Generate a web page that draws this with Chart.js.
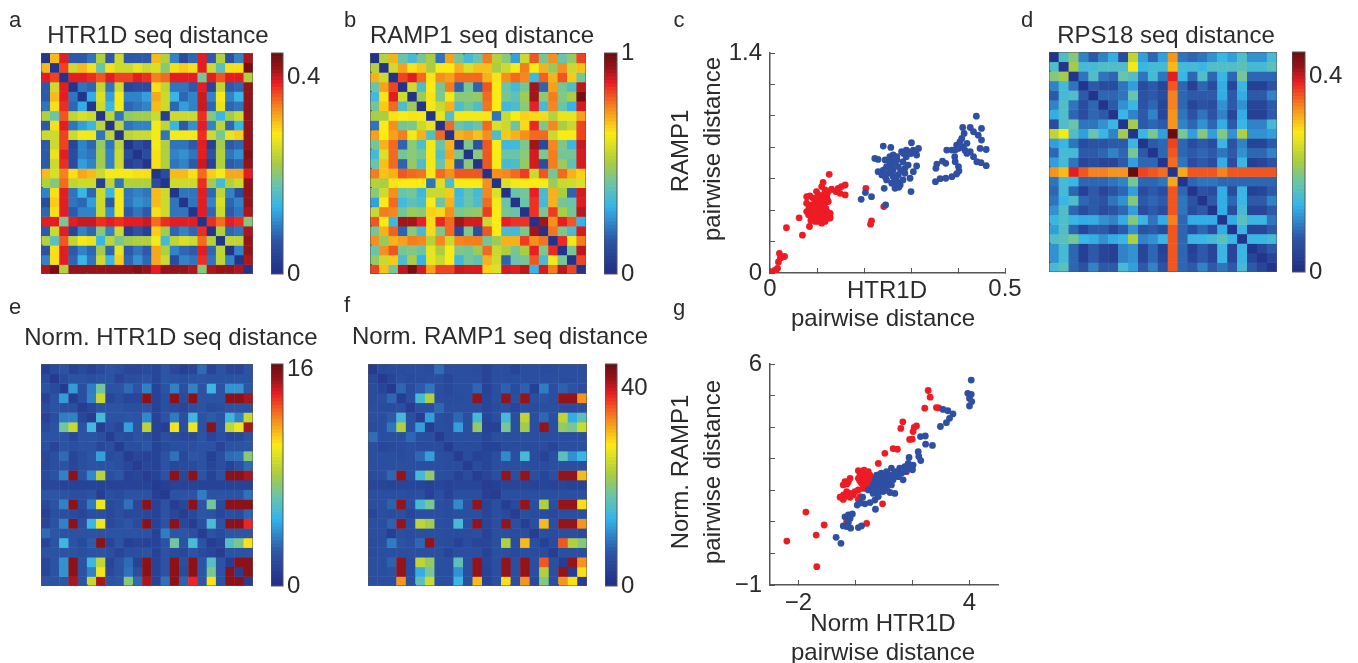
<!DOCTYPE html>
<html>
<head>
<meta charset="utf-8">
<script src="https://cdn.jsdelivr.net/npm/chart.js@4/dist/chart.umd.min.js"></script>
<style>
html, body { margin: 0; padding: 0; background: #fff; overflow: hidden; }
#page { position: relative; width: 1358px; height: 663px; font-family: "Liberation Sans", Arial, sans-serif; filter: blur(0.45px); }
canvas { position: absolute; }
.lbl { position: absolute; white-space: nowrap; color: #2b2b2b; }
</style>
</head>
<body>
<div id="page"></div>
<script>
// distance matrices are symmetric, so only the upper triangle is kept (row i starts at column i)
const htr1dDist = [
  [.01,.31,.39,.07,.07,.09,.23,.07,.25,.07,.07,.07,.31,.23,.1,.05,.08,.39,.07,.23,.06,.1,.41],
  [.01,.37,.25,.31,.29,.18,.29,.25,.25,.27,.25,.26,.2,.29,.3,.29,.39,.25,.17,.29,.29,.44],
  [.01,.39,.39,.38,.36,.39,.37,.37,.39,.38,.34,.35,.39,.39,.39,.19,.39,.36,.39,.39,.23],
  [.01,.09,.08,.24,.09,.25,.04,.05,.05,.29,.24,.09,.09,.07,.39,.04,.24,.07,.08,.42],
  [.01,.13,.26,.12,.28,.1,.1,.12,.32,.25,.14,.08,.1,.4,.1,.28,.1,.14,.42],
  [.01,.25,.14,.28,.08,.09,.1,.31,.25,.08,.12,.1,.4,.08,.27,.08,.09,.42],
  [.01,.24,.09,.21,.22,.22,.25,.03,.25,.25,.25,.38,.2,.14,.22,.25,.42],
  [.01,.24,.09,.1,.1,.28,.24,.14,.07,.11,.39,.1,.24,.08,.14,.42],
  [.01,.24,.25,.25,.28,.09,.28,.28,.28,.38,.25,.19,.27,.3,.42],
  [.01,.05,.03,.28,.23,.09,.09,.07,.39,.03,.22,.07,.08,.42],
  [.01,.05,.29,.23,.1,.11,.09,.39,.06,.23,.09,.11,.43],
  [.01,.29,.23,.09,.1,.07,.4,.03,.23,.07,.08,.42],
  [.01,.05,.31,.31,.29,.35,.3,.28,.32,.32,.39],
  [.01,.25,.25,.25,.38,.22,.15,.23,.25,.42],
  [.01,.09,.09,.39,.08,.24,.1,.05,.42],
  [.01,.09,.39,.1,.26,.08,.1,.42],
  [.01,.39,.08,.25,.07,.09,.41],
  [.01,.38,.35,.39,.38,.2],
  [.01,.23,.08,.09,.41],
  [.01,.24,.24,.42],
  [.01,.1,.42],
  [.01,.41],
  [.01]
];
const ramp1Dist = [
  [.02,.52,.7,.4,.33,.42,.5,.2,.72,.42,.33,.4,.76,.52,.45,.27,.55,.8,.42,.74,.4,.47,.82],
  [.02,.56,.72,.64,.67,.5,.63,.63,.7,.58,.68,.68,.5,.56,.63,.76,.63,.7,.47,.74,.55,.68],
  [.02,.82,.87,.78,.64,.74,.72,.78,.78,.78,.7,.64,.74,.78,.75,.32,.79,.7,.8,.67,.42],
  [.02,.56,.35,.63,.42,.76,.17,.42,.17,.8,.63,.4,.33,.42,.92,.17,.72,.42,.35,.9],
  [.02,.48,.64,.43,.62,.45,.45,.47,.78,.63,.42,.38,.48,.92,.45,.76,.44,.5,.98],
  [.02,.62,.55,.7,.35,.42,.35,.77,.63,.32,.35,.45,.86,.33,.75,.4,.3,.88],
  [.02,.6,.36,.62,.62,.62,.62,.2,.55,.63,.66,.65,.65,.52,.6,.6,.72],
  [.02,.78,.4,.36,.4,.78,.58,.55,.4,.65,.85,.43,.75,.5,.55,.82],
  [.02,.7,.72,.68,.74,.35,.67,.7,.74,.78,.78,.55,.63,.63,.82],
  [.02,.43,.13,.8,.63,.32,.33,.43,.92,.1,.75,.43,.32,.89],
  [.02,.45,.8,.63,.4,.4,.45,.88,.43,.76,.42,.42,.88],
  [.02,.8,.63,.33,.35,.47,.88,.12,.76,.48,.38,.88],
  [.02,.74,.75,.78,.83,.55,.8,.42,.78,.7,.66],
  [.02,.58,.62,.63,.63,.63,.48,.55,.56,.58],
  [.02,.4,.42,.86,.34,.7,.5,.17,.88],
  [.02,.4,.84,.33,.7,.42,.4,.87],
  [.02,.84,.43,.83,.5,.42,.9],
  [.02,.92,.74,.86,.8,.3],
  [.02,.77,.43,.34,.88],
  [.02,.85,.62,.76],
  [.02,.42,.9],
  [.02,.82],
  [.02]
];
const rps18Dist = [
  [.01,.16,.2,.1,.07,.1,.13,.05,.24,.12,.08,.12,.33,.09,.08,.09,.11,.14,.12,.16,.11,.11,.15],
  [.01,.22,.15,.15,.16,.16,.16,.28,.14,.15,.15,.31,.15,.15,.14,.16,.16,.16,.17,.15,.15,.17],
  [.01,.09,.16,.09,.08,.18,.16,.09,.15,.09,.39,.14,.08,.16,.08,.14,.08,.19,.08,.08,.08],
  [.01,.07,.05,.05,.09,.12,.05,.07,.04,.36,.08,.03,.08,.05,.13,.04,.14,.03,.03,.06],
  [.01,.08,.08,.09,.18,.06,.07,.05,.34,.08,.07,.07,.07,.13,.07,.13,.07,.07,.1],
  [.01,.07,.11,.14,.06,.08,.04,.34,.08,.04,.06,.05,.11,.07,.11,.04,.04,.07],
  [.01,.14,.1,.07,.1,.04,.33,.09,.06,.09,.06,.1,.04,.13,.03,.03,.07],
  [.01,.22,.07,.08,.07,.33,.1,.08,.11,.08,.13,.07,.14,.1,.1,.15],
  [.01,.14,.19,.12,.45,.19,.12,.2,.12,.2,.11,.23,.11,.11,.12],
  [.01,.07,.08,.37,.08,.05,.07,.05,.14,.06,.1,.04,.04,.07],
  [.01,.08,.36,.08,.07,.08,.07,.09,.07,.11,.08,.08,.1],
  [.01,.35,.09,.05,.07,.05,.13,.05,.14,.03,.04,.06],
  [.01,.32,.36,.36,.36,.34,.36,.36,.36,.36,.36],
  [.01,.08,.09,.09,.08,.08,.08,.08,.08,.08],
  [.01,.06,.05,.13,.05,.14,.03,.04,.07],
  [.01,.07,.13,.08,.14,.07,.07,.1],
  [.01,.13,.05,.15,.04,.04,.07],
  [.01,.13,.17,.14,.14,.09],
  [.01,.14,.04,.04,.07],
  [.01,.14,.14,.15],
  [.01,.04,.07],
  [.01,.04],
  [.01]
];
const normHtr1dDist = [
  [1,1.8,2.2,1.2,1.8,1.2,1.8,2.2,2,1.6,1.6,1.8,1.5,2.4,1.6,1.1,1.4,3,1.4,2.2,1.5,1.4,2.2],
  [.8,1.8,2.2,2.2,2,2.2,2.2,1.4,2,2,2.2,1.5,2.4,2.2,2,2.2,2.4,2.2,2.2,2.2,2.2,2.2],
  [.8,4.3,2,3.5,6.8,2.2,2.2,3,2.2,3.6,1.3,2.2,3.6,2,3.6,2.2,5.2,2.2,4,4,2.4],
  [.9,2,3.6,9,1.5,2,1.4,1.5,15.5,1.3,2,15.5,1.8,15.5,2.2,2.2,2.2,15.5,15.5,15],
  [.9,1.5,2.2,2.2,2.2,2,2,2.2,1.3,2,1.8,1.4,2,2.2,1.8,2,2.2,2.2,2.2],
  [.9,5.4,2.2,2.2,2.4,2.2,3.8,1.3,2.2,3.4,2,5.2,2.2,2.6,2.2,5.2,3.6,9],
  [.9,2,1.5,4.4,2.2,8.6,1.3,1,10,2,10,2.2,15.5,2.2,8.8,10,15],
  [.9,2,1.8,2.2,2,1.3,2,1.8,1.6,1.6,2.2,1.4,2,1.4,1.6,2.2],
  [.9,2,2,2.4,1.3,1.8,2,2,2,2.2,2.2,1.4,2.2,2.2,2.4],
  [.9,1.5,1.2,1.3,2.2,3.2,1.6,2.4,2.2,1.1,2,3,3.2,7.4],
  [.9,1.5,1.3,2.2,1.6,1.8,1.8,2.2,1.4,2,1.3,2,3],
  [.9,1.3,2.2,15.5,1.6,15.5,2.2,1.2,2.2,15.5,15.5,15],
  [.8,1.1,1.3,1.3,1.3,1.3,1.3,1.3,1.3,1.3,1.3],
  [.8,2.2,2.2,2.2,3.5,2.2,2.2,2.2,2.2,3.2],
  [.9,1.5,15.5,2.4,6.8,1.8,15.5,15.5,15.5],
  [.9,1.6,2.4,2.2,1.5,2,1.8,2.8],
  [.9,2,5.6,2.2,15.5,15.5,14],
  [.9,2.2,1.8,2.4,2.4,2.4],
  [.9,1.4,6,7,10.5],
  [.9,2.2,2.2,2.2],
  [.9,15.5,15.5],
  [.9,15.5],
  [.9]
];
const normRamp1Dist = [
  [2,4.5,5,5,5.5,5.5,5,8.5,5.5,5.5,5.5,5,4,5.5,5.5,4,5.5,5.5,5,5,5.5,5.5,5.5],
  [2,4,5.5,5,5.5,5.5,5.5,4.2,5.5,5.5,5.5,3.8,5.5,5.5,5.5,5.5,5.5,5.5,5.5,5.5,5.5,5.5],
  [2,8,5,7,9,5.5,4.5,5.5,5.5,8,3.5,5.5,7.5,5,7.5,3,9.5,5.5,7.5,6,5.5],
  [2.5,5.5,15,23,5.5,5,5,5.5,42,4,5.5,42,5.5,42,5.5,6,5.5,42,42,33],
  [2.5,5.5,5.5,8,5.5,5.5,5.5,5.5,4,5,5.5,4,5.5,5,5.5,5.5,5,5,5.5],
  [2.5,12,5.5,5,8,5.5,15,4,5.5,15,5.5,24,5.5,8,5.5,24,13,17],
  [2.5,5.5,5,12,5.5,21,3.2,3.2,19,5.5,22,5.5,42,5.5,21,19,25],
  [2.5,5,5.5,5.5,5.5,4,5.5,5.5,5.5,5.5,5.5,5.5,5.5,5.5,5.5,5.5],
  [2.5,5,5,5,3.5,3.5,5,5,5,5,5,4,5.5,5.5,5.5],
  [2.5,5,3.5,4,5.5,10.5,5.5,15,5,3.5,5.5,17,11,14],
  [2.5,5,4,5.5,5.5,5.5,5.5,5,5,5.5,5.5,5.5,5.5],
  [2.5,3.8,5.5,42,5.5,42,5.5,4,5.5,42,42,31],
  [2.5,3,3.8,3.8,3.8,3.5,3.8,3.5,3.8,3.5,3.5],
  [2.5,5.5,5.5,5.5,5.5,5.5,5.5,5.5,5.5,5.5],
  [2.8,4.5,42,5.5,23,5.5,42,42,29],
  [2.5,5.5,5,5,4.5,5.5,5.5,5.5],
  [2.8,5.5,31,5.5,42,42,33],
  [2.5,5.5,5,5.5,5.5,4.5],
  [3,5,36,23,20],
  [2.5,5.5,5.5,5.5],
  [2.5,42,33],
  [2.5,29],
  [2.5]
];

// panel c: HTR1D vs RAMP1 pairwise distance
const rawRed = [[.002,0],[.005,0],[.009,.015],[.013,.02],[.007,.005],[.016,.03],[.02,.125],[.018,.07],[.025,.1],[.031,.105],[.022,.095],[.035,.288],[.062,.351],[.069,.241],[.084,.296],
  [.078,.486],[.085,.49],[.078,.444],[.089,.433],[.078,.391],[.082,.37],[.087,.334],[.094,.359],[.097,.402],[.103,.423],[.106,.455],[.11,.486],[.099,.518],[.11,.55],[.113,.577],[.126,.628],[.117,.529],[.124,.518],[.131,.533],[.14,.518],[.145,.539],[.152,.55],[.16,.56],[.16,.497],[.149,.507],[.121,.476],[.117,.444],[.124,.455],[.113,.412],[.121,.391],[.128,.38],[.124,.349],[.117,.328],[.11,.317],[.103,.328],[.096,.328],[.11,.359],[.106,.38],[.117,.37],[.11,.402],[.104,.465],[.113,.465],[.121,.497],[.103,.497],[.096,.465],[.092,.476],[.083,.412],[.089,.38],
  [.101,.44],[.108,.425],[.119,.41],[.091,.405],[.1,.36],[.122,.36],[.115,.5],[.128,.35],
  [.204,.539],[.242,.423],[.216,.332],[.214,.311]];
const rawBlue = [[.194,.469],[.203,.512],[.216,.486],[.246,.433],
  [.223,.729],[.23,.723],[.241,.808],[.257,.799],[.245,.719],[.255,.74],[.262,.751],[.27,.74],[.28,.772],[.29,.782],[.301,.829],[.305,.782],[.316,.793],[.312,.751],[.29,.74],[.283,.708],[.294,.687],[.312,.681],[.305,.645],[.298,.603],[.3,.518],[.287,.634],[.273,.677],[.259,.687],[.248,.677],[.241,.655],[.23,.645],[.238,.624],[.252,.634],[.262,.613],[.273,.624],[.248,.592],[.243,.539],[.266,.539],[.277,.56],[.259,.571],[.27,.581],[.262,.655],[.27,.719],[.255,.708],[.287,.666],[.245,.613],[.283,.592],
  [.266,.7],[.26,.64],[.268,.6],[.255,.66],[.278,.65],[.266,.57],[.274,.545],[.296,.77],[.3,.76],[.31,.77],[.284,.76],[.262,.725],
  [.352,.581],[.362,.6],[.374,.603],[.387,.613],[.397,.63],[.402,.649],[.355,.693],[.353,.666],[.367,.712],[.374,.698],[.376,.782],[.387,.782],[.393,.74],[.394,.708],[.401,.677],[.397,.814],[.404,.835],[.411,.803],[.408,.856],[.41,.926],[.413,.888],[.419,.761],[.426,.772],[.426,.926],[.439,.998],[.45,.92],[.433,.899],[.443,.877],[.45,.846],[.447,.793],[.46,.786],[.433,.74],[.44,.708],[.449,.702],[.46,.683],[.401,.793],[.394,.782],[.419,.825],[.405,.8],[.415,.78]];
// panel g: normalised distances
const normRed = [[2.55,5.16],[2.62,4.95],[2.43,4.6],[2.84,4.62],[2.92,4.61],[1.66,4.17],[1.59,3.96],[2.14,4.04],[2.06,3.99],[2.02,3.86],[1.9,3.61],[1.99,3.62],[1.32,3.32],[1.47,3.3],[1.03,3.17],[.8,2.85],[1.79,2.59],
  [.1,2.62],[.3,2.64],[.45,2.59],[.16,2.48],[.33,2.48],[.51,2.48],[.1,2.38],[.27,2.35],[.45,2.33],[.62,2.38],[-.19,2.38],[-.37,2.27],[-.25,2.27],[-.43,2.17],[.21,2.22],[.39,2.17],[.56,2.22],[.27,2.06],[.45,2.06],[.1,2.01],[-.02,1.96],[-.19,1.9],[-.31,1.96],[-.37,1.8],[-.54,1.78],[-.43,1.71],[-.19,1.78],[-.08,1.85],[.16,1.8],[.1,1.71],[.95,1.57],[.39,.95],[-.31,1.01],
  [.2,2.5],[.38,2.4],[.15,2.3],[.5,2.15],[.35,2.28],[-.3,2.2],[-.42,1.85],[-.25,1.85],
  [-1.74,1.31],[-1.1,.9],[-1.38,.58],[-2.41,.39],[-1.36,-.42]];
const normBlue = [[4.06,5.49],[3.94,5.07],[4.06,5.04],[4,4.91],[4.08,4.81],[4,4.67],[3.07,4.56],[3.24,4.52],[3.42,4.42],[3.3,4.28],[3.19,4.14],[2.98,4.02],[2.28,3.7],[2.45,3.72],[2.46,3.46],[2.7,3.42],[2.2,3.22],[2.22,3.07],[2.29,2.94],[1.88,3.04],[2.02,2.8],[1.85,2.85],[1.73,2.75],[1.55,2.7],[1.61,2.54],[1.5,2.43],[1.67,2.33],
  [1.26,2.7],[1.09,2.59],[.91,2.54],[.74,2.48],[1.38,2.59],[1.21,2.48],[1.03,2.43],[.86,2.38],[.68,2.33],[1.32,2.33],[1.15,2.27],[.97,2.27],[.8,2.22],[.62,2.17],[1.26,2.17],[1.09,2.12],[.91,2.12],[.74,2.06],[.56,2.06],[.97,1.96],[.8,1.93],[1.21,1.93],[1.38,1.9],[.45,2.01],[.68,1.69],[.8,1.8],[.62,1.9],
  [.85,2.5],[.95,2.4],[1.05,2.3],[1.15,2.4],[.75,2.3],[.88,2.15],[1,2.15],[1.1,2],[.85,2.05],[.7,2.2],[1.3,2.45],[.92,2.32],[1.02,2.05],[.78,2.4],[1.45,2.55],[1.6,2.65],[1.75,2.6],[1.9,2.7],[2,2.65],
  [.51,1.61],[.33,1.57],[.06,1.53],[.25,1.78],[.7,1.4],[.18,1.6],
  [-.37,1.16],[-.25,1.22],[-.11,1.25],[-.19,1.11],[-.25,.97],[-.17,.8],[-.43,.87],[-.31,.85],[.1,.82],[.21,.87],[-.68,.51],[-.51,.32]];

const cXTickLabels = ['0', '', '', '', '', '0.5'];
const cYTickLabels = ['0', '', '', '', '', '', '', '1.4'];
const gXTickLabels = ['\u22122', '', '', '4'];
const gYTickLabels = ['\u22121', '', '', '', '', '', '', '6'];

const colorStops = [
  [0, 34, 46, 135], [.15, 44, 86, 166], [.3, 52, 180, 235], [.4, 105, 196, 170],
  [.5, 170, 205, 65], [.63, 250, 235, 20], [.75, 245, 135, 30], [.86, 235, 30, 35], [.93, 150, 20, 25], [1, 105, 12, 15]
];

const page = document.getElementById('page');
const axisColor = '#555';
const textFont = '"Liberation Sans", Arial, sans-serif';

function colorAt(f) {
  f = Math.max(0, Math.min(1, f));
  let i = 0;
  while (i < colorStops.length - 2 && f > colorStops[i + 1][0]) i++;
  const a = colorStops[i], b = colorStops[i + 1];
  const t = (f - a[0]) / (b[0] - a[0]);
  return `rgb(${[1, 2, 3].map(k => Math.round(a[k] + (b[k] - a[k]) * t)).join(',')})`;
}

function mirror(rows) {
  const n = rows.length;
  const m = [];
  for (let i = 0; i < n; i++) m.push(new Array(n));
  rows.forEach((r, i) => r.forEach((v, k) => { m[i][i + k] = v; m[i + k][i] = v; }));
  return m;
}

function addLabel(text, x, y, size, rotate) {
  const d = document.createElement('div');
  d.className = 'lbl';
  d.textContent = text;
  d.style.left = x + 'px';
  d.style.top = y + 'px';
  d.style.fontSize = size + 'px';
  d.style.transform = 'translate(-50%,-50%)' + (rotate ? ' rotate(-90deg)' : '');
  page.appendChild(d);
}

function addCanvas(x, y, w, h) {
  const c = document.createElement('canvas');
  c.width = w;
  c.height = h;
  c.style.left = x + 'px';
  c.style.top = y + 'px';
  c.style.width = w + 'px';
  c.style.height = h + 'px';
  page.appendChild(c);
  return c;
}

// frame and the small inward ticks MATLAB leaves on the image axes
const framePlugin = {
  id: 'frame',
  afterDatasetsDraw(chart, args, opts) {
    const { left, right, top, bottom } = chart.chartArea;
    const ctx = chart.ctx;
    ctx.save();
    ctx.strokeStyle = axisColor;
    ctx.lineWidth = 1;
    ctx.strokeRect(left, top, right - left, bottom - top);
    if (opts.cells) {
      ctx.beginPath();
      for (let k = 2; k < opts.cells; k += 2) {
        const y = top + (bottom - top) * k / opts.cells;
        ctx.moveTo(left, y); ctx.lineTo(left + 2, y);
      }
      for (let k = 5; k < opts.cells; k += 5) {
        const x = left + (right - left) * k / opts.cells;
        ctx.moveTo(x, top); ctx.lineTo(x, top + 2);
        ctx.moveTo(x, bottom); ctx.lineTo(x, bottom - 2);
      }
      ctx.stroke();
    }
    ctx.restore();
  }
};

function drawHeatmap(rows, maxVal, x, y, w, h) {
  const m = mirror(rows);
  const n = m.length;
  const labels = m.map((r, i) => i + 1);
  const datasets = m.map((row, r) => ({
    data: row.map(() => [r, r + 1.05]),
    backgroundColor: row.map(v => colorAt(v / maxVal)),
    borderWidth: 0,
    barPercentage: 1.05,
    categoryPercentage: 1
  }));
  new Chart(addCanvas(x, y, w, h), {
    type: 'bar',
    data: { labels, datasets },
    plugins: [framePlugin],
    options: {
      responsive: false,
      animation: false,
      events: [],
      scales: {
        x: { display: false, stacked: true },
        y: { display: false, stacked: false, reverse: true, min: 0, max: n }
      },
      plugins: { legend: { display: false }, tooltip: { enabled: false }, frame: { cells: n } }
    }
  });
}

function drawColorbar(maxVal, tickVals, x, y, w, h) {
  const steps = 64;
  const datasets = [];
  for (let i = 0; i < steps; i++) {
    datasets.push({
      data: [[maxVal * i / steps, maxVal * (i + 1.1) / steps]],
      backgroundColor: colorAt((i + .5) / steps),
      borderWidth: 0,
      barPercentage: 1,
      categoryPercentage: 1
    });
  }
  const pad = 16;
  new Chart(addCanvas(x, y - pad, w + 60, h + pad * 2), {
    type: 'bar',
    data: { labels: [''], datasets },
    plugins: [framePlugin],
    options: {
      responsive: false,
      animation: false,
      events: [],
      layout: { padding: { top: pad, bottom: pad } },
      scales: {
        x: { display: false, stacked: true },
        y: {
          position: 'right', stacked: false, min: 0, max: maxVal,
          afterBuildTicks: s => { s.ticks = tickVals.map(v => ({ value: v })); },
          afterFit: s => { s.width = 60; s.paddingTop = 0; s.paddingBottom = 0; },
          grid: { display: false, drawTicks: false },
          border: { display: false },
          ticks: { padding: 4, color: '#2b2b2b', font: { size: 24, family: textFont }, callback: v => String(v) }
        }
      },
      plugins: { legend: { display: false }, tooltip: { enabled: false }, frame: {} }
    }
  });
}

function drawScatter(red, blue, box, xOpt, yOpt) {
  const pts = a => a.map(p => ({ x: p[0], y: p[1] }));
  const axis = (o, fit) => ({
    min: o.min, max: o.max,
    afterBuildTicks: s => { s.ticks = o.ticks.map(v => ({ value: v })); },
    afterFit: fit,
    grid: { drawOnChartArea: false, tickLength: -5, color: axisColor, lineWidth: 1 },
    border: { color: axisColor, width: 1.5 },
    ticks: {
      autoSkip: false, maxRotation: 0, padding: o.pad, color: '#2b2b2b',
      font: { size: 24, family: textFont },
      callback: (v, i) => o.labels[i]
    }
  });
  new Chart(addCanvas(box.x, box.y, box.w, box.h), {
    type: 'scatter',
    data: {
      datasets: [
        { data: pts(blue), backgroundColor: '#2e4fa2', pointRadius: 3.4, borderWidth: 0 },
        { data: pts(red), backgroundColor: '#ed1c24', pointRadius: 3.4, borderWidth: 0 }
      ]
    },
    options: {
      responsive: false,
      animation: false,
      events: [],
      layout: { padding: { top: box.top, right: box.right } },
      scales: {
        x: axis(xOpt, s => { s.height = box.bottom; s.paddingLeft = 0; s.paddingRight = 0; }),
        y: axis(yOpt, s => { s.width = box.left; s.paddingTop = 0; s.paddingBottom = 0; })
      },
      plugins: { legend: { display: false }, tooltip: { enabled: false } }
    }
  });
}

// heatmaps
drawHeatmap(htr1dDist, .45, 41, 53, 212, 221);
drawColorbar(.45, [0, .4], 271, 53, 12, 221);
drawHeatmap(ramp1Dist, 1, 370, 53, 216, 221);
drawColorbar(1, [0, 1], 604, 53, 13, 221);
drawHeatmap(rps18Dist, .45, 1049, 52, 228, 220);
drawColorbar(.45, [0, .4], 1292, 52, 13, 220);
drawHeatmap(normHtr1dDist, 16.4, 41, 364, 212, 222);
drawColorbar(16.4, [0, 16], 271, 364, 12, 222);
drawHeatmap(normRamp1Dist, 45, 368, 364, 219, 222);
drawColorbar(45, [0, 40], 605, 364, 12, 222);

// scatter panels
drawScatter(rawRed, rawBlue,
  { x: 665, y: 30, w: 380, h: 290, left: 105, top: 23, right: 40, bottom: 47 },
  { min: 0, max: .5, ticks: [0, .1, .2, .3, .4, .5], labels: cXTickLabels, pad: 7 },
  { min: 0, max: 1.4, ticks: [0, .2, .4, .6, .8, 1, 1.2, 1.4], labels: cYTickLabels, pad: 13 });
drawScatter(normRed, normBlue,
  { x: 665, y: 345, w: 350, h: 300, left: 105, top: 19, right: 17, bottom: 60 },
  { min: -3, max: 5, ticks: [-2, 0, 2, 4], labels: gXTickLabels, pad: 9 },
  { min: -1, max: 6, ticks: [-1, 0, 1, 2, 3, 4, 5, 6], labels: gYTickLabels, pad: 13 });

// titles, panel letters and axis titles
addLabel('HTR1D seq distance', 158, 35, 24);
addLabel('RAMP1 seq distance', 482, 35, 24);
addLabel('RPS18 seq distance', 1166, 35, 24);
addLabel('Norm. HTR1D seq distance', 171, 337, 24);
addLabel('Norm. RAMP1 seq distance', 500, 336, 24);
addLabel('a', 15, 20, 22);
addLabel('b', 350, 20, 22);
addLabel('c', 679, 20, 22);
addLabel('d', 1027, 20, 22);
addLabel('e', 15, 307, 22);
addLabel('f', 347, 305, 22);
addLabel('g', 679, 308, 22);
addLabel('RAMP1', 680, 151, 24, true);
addLabel('pairwise distance', 712, 149, 24, true);
addLabel('HTR1D', 887, 290, 24);
addLabel('pairwise distance', 883, 318, 24);
addLabel('Norm. RAMP1', 680, 472, 24, true);
addLabel('pairwise distance', 712, 472, 24, true);
addLabel('Norm HTR1D', 883, 623, 24);
addLabel('pairwise distance', 883, 652, 24);
</script>
</body>
</html>
